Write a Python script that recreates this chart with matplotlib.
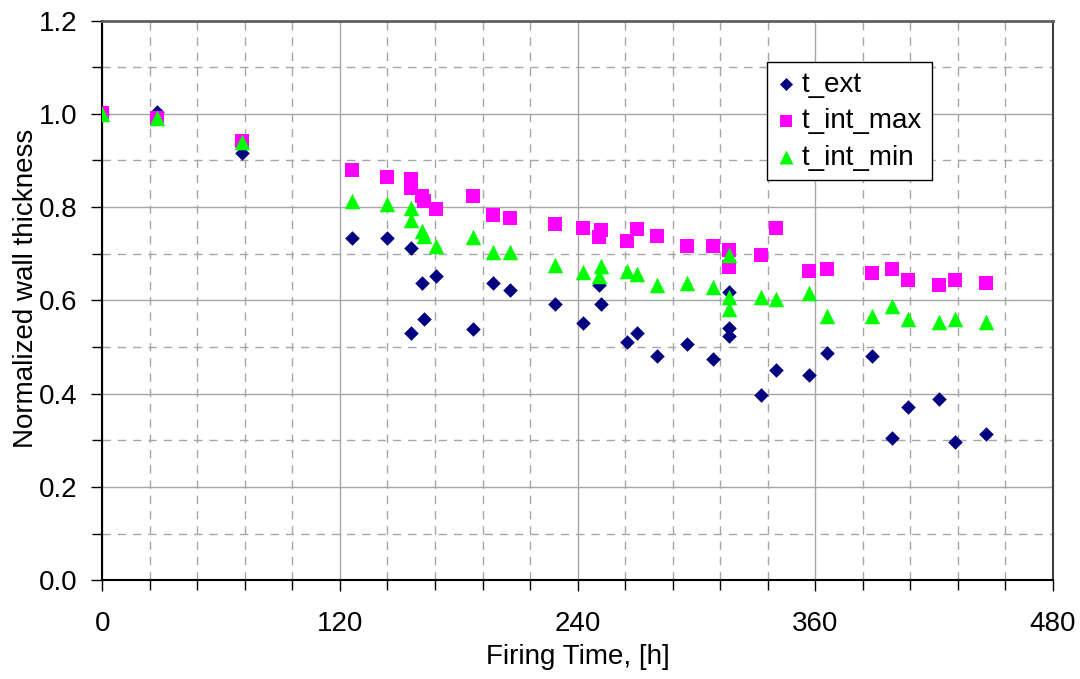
import matplotlib.pyplot as plt
from matplotlib.ticker import MultipleLocator

plt.rcParams['font.family'] = ['Liberation Sans', 'DejaVu Sans']

# Firing time [h] and normalized wall thickness
hours = [0, 27.5, 70.7, 126.2, 143.6, 155.7, 155.7, 161.2, 162.2, 168.3, 187.3,
         197.1, 205.8, 228.7, 242.8, 250.9, 252.0, 264.8, 270.0, 280.2, 295.0,
         308.1, 316.5, 316.5, 316.5, 332.4, 340.4, 356.6, 365.7, 388.8, 398.8,
         406.7, 422.2, 430.4, 446.1]

t_ext = [1.000, 1.004, 0.917, 0.734, 0.734, 0.713, 0.531, 0.638, 0.560, 0.653, 0.538,
         0.637, 0.622, 0.592, 0.552, 0.633, 0.592, 0.511, 0.531, 0.481, 0.506,
         0.474, 0.619, 0.540, 0.524, 0.397, 0.451, 0.439, 0.487, 0.481, 0.306,
         0.372, 0.389, 0.297, 0.313]

t_int_max = [1.002, 0.992, 0.942, 0.880, 0.864, 0.860, 0.842, 0.824, 0.812, 0.796, 0.824,
             0.783, 0.776, 0.764, 0.756, 0.735, 0.751, 0.727, 0.752, 0.737, 0.717,
             0.717, 0.708, 0.671, 0.671, 0.697, 0.756, 0.664, 0.667, 0.658, 0.667,
             0.644, 0.633, 0.644, 0.637]

t_int_min = [1.000, 0.990, 0.940, 0.812, 0.807, 0.797, 0.772, 0.749, 0.738, 0.717, 0.735,
             0.703, 0.704, 0.676, 0.660, 0.653, 0.674, 0.664, 0.656, 0.634, 0.638,
             0.628, 0.697, 0.608, 0.581, 0.607, 0.604, 0.615, 0.567, 0.567, 0.589,
             0.560, 0.554, 0.560, 0.554]

fig = plt.figure(figsize=(10.8, 6.79), dpi=100)
ax = fig.add_axes([0.0947, 0.1454, 0.8803, 0.8244])

ax.scatter(hours, t_ext, marker='D', s=55, color='#000080', linewidths=0, label='t_ext', zorder=3)
ax.scatter(hours, t_int_max, marker='s', s=100, color='#FF00FF', linewidths=0, label='t_int_max', zorder=3)
ax.scatter(hours, t_int_min, marker='^', s=125, color='#00FF00', linewidths=0, label='t_int_min', zorder=4)

ax.set_xlim(0, 480)
ax.set_ylim(0, 1.2)
ax.xaxis.set_major_locator(MultipleLocator(120))
ax.xaxis.set_minor_locator(MultipleLocator(24))
ax.yaxis.set_major_locator(MultipleLocator(0.2))
ax.yaxis.set_minor_locator(MultipleLocator(0.1))
ax.yaxis.set_major_formatter(plt.FormatStrFormatter('%.1f'))

ax.grid(which='major', color='#A6A6A6', linewidth=1.0, linestyle='-')
ax.grid(which='minor', color='#A6A6A6', linewidth=1.0, linestyle=(0, (6, 5)))
ax.set_axisbelow(True)

ax.tick_params(which='major', direction='out', length=8, width=1, labelsize=20)
ax.tick_params(which='minor', direction='out', length=7, width=1)
ax.tick_params(axis='x', which='major', pad=14)
ax.tick_params(axis='y', which='major', pad=10)

for side in ['left', 'bottom']:
    ax.spines[side].set_color('black')
    ax.spines[side].set_linewidth(1.5)
ax.spines['top'].set_color('#606060')
ax.spines['top'].set_linewidth(2)
ax.spines['right'].set_color('#404040')
ax.spines['right'].set_linewidth(1.5)

ax.set_xlabel('Firing Time, [h]', fontsize=20, labelpad=5)
ax.set_ylabel('Normalized wall thickness', fontsize=20)
ax.yaxis.set_label_coords(-0.067, 0.522)

leg = ax.legend(loc='upper left', bbox_to_anchor=(0.699, 0.926), fontsize=20,
                frameon=True, fancybox=False, edgecolor='black', framealpha=1,
                handletextpad=0.2, borderpad=0.35, labelspacing=0.38, handlelength=0.7,
                borderaxespad=0, markerscale=0.9)
leg.get_frame().set_linewidth(1.0)

fig.savefig('out.png', dpi=100)
